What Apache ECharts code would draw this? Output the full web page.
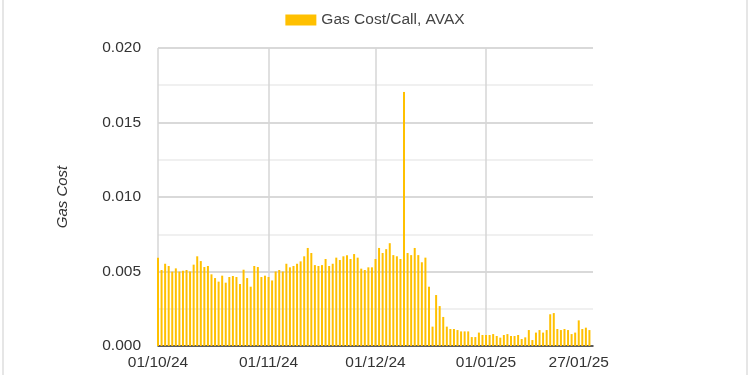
<!DOCTYPE html>
<html>
<head>
<meta charset="utf-8">
<script src="https://cdn.jsdelivr.net/npm/echarts@6/dist/echarts.min.js"></script>
<style>
html,body{margin:0;padding:0;background:#fff;}
#wrap{position:relative;width:750px;height:375px;}
#chart{width:750px;height:375px;}
.edge{position:absolute;top:0;width:2px;height:375px;background:#e6e6e6;}
</style>
</head>
<body>
<div id="wrap">
<div id="chart"></div>
<div class="edge" style="left:2px"></div>
<div class="edge" style="left:746px"></div>
</div>
<script>
// Daily gas cost per call (AVAX), 01/10/2024 .. 30/01/2025
const startDate = [2024, 9, 1];
const gasCost = [
  0.00593, 0.00510, 0.00552, 0.00537, 0.00499, 0.00521, 0.00499, 0.00505, 0.00510, 0.00500,
  0.00546, 0.00602, 0.00570, 0.00530, 0.00537, 0.00481, 0.00456, 0.00432, 0.00472, 0.00425,
  0.00463, 0.00470, 0.00463, 0.00416, 0.00512, 0.00456, 0.00398, 0.00537, 0.00530, 0.00463,
  0.00472, 0.00463, 0.00440, 0.00500, 0.00510, 0.00500, 0.00552, 0.00528, 0.00537, 0.00552,
  0.00568, 0.00602, 0.00658, 0.00624, 0.00543, 0.00537, 0.00543, 0.00584, 0.00537, 0.00552,
  0.00593, 0.00577, 0.00602, 0.00609, 0.00584, 0.00617, 0.00593, 0.00519, 0.00510, 0.00528,
  0.00528, 0.00584, 0.00658, 0.00624, 0.00650, 0.00690, 0.00610, 0.00602, 0.00584, 0.01705,
  0.00624, 0.00610, 0.00658, 0.00610, 0.00562, 0.00593, 0.00398, 0.00130, 0.00342, 0.00268,
  0.00195, 0.00130, 0.00114, 0.00114, 0.00107, 0.00098, 0.00098, 0.00098, 0.00060, 0.00060,
  0.00090, 0.00074, 0.00074, 0.00074, 0.00080, 0.00067, 0.00056, 0.00074, 0.00080, 0.00067,
  0.00067, 0.00074, 0.00047, 0.00058, 0.00107, 0.00040, 0.00090, 0.00107, 0.00090, 0.00107,
  0.00213, 0.00221, 0.00114, 0.00107, 0.00114, 0.00107, 0.00080, 0.00090, 0.00172, 0.00114,
  0.00123, 0.00107
];
// x-axis: days since 01/10/24
const tickDays = [0, 31, 61, 92, 118];
const tickLabels = ['01/10/24', '01/11/24', '01/12/24', '01/01/25', '27/01/25'];
const gridDays = [0, 31, 61, 92];
const yTicks = ['0.000', '0.005', '0.010', '0.015', '0.020'];
const seriesName = 'Gas Cost/Call, AVAX';
const axisDays = 122;

const barData = gasCost.map((v, i) => [i, v]);
const FONT = 'Liberation Sans, Arial, sans-serif';

const chart = echarts.init(document.getElementById('chart'), null, {renderer: 'canvas'});
chart.setOption({
  animation: false,
  backgroundColor: '#ffffff',
  legend: {
    top: 7,
    left: 'center',
    itemWidth: 31,
    itemHeight: 11,
    icon: 'rect',
    textStyle: {fontFamily: FONT, fontSize: 15.5, color: '#444'},
    data: [seriesName]
  },
  grid: {left: 158, right: 157, top: 48, bottom: 29, containLabel: false},
  xAxis: {
    type: 'value',
    min: 0,
    max: axisDays,
    axisLine: {show: true, onZero: false, lineStyle: {color: '#333', width: 1.5}},
    axisTick: {show: false, customValues: gridDays},
    splitLine: {show: true, lineStyle: {color: '#d6d6d6', width: 1.5}},
    axisLabel: {
      customValues: tickDays,
      fontFamily: FONT, fontSize: 15.5, color: '#333', margin: 9,
      formatter: (v) => tickLabels[tickDays.indexOf(Math.round(v))] || ''
    }
  },
  yAxis: {
    type: 'value',
    min: 0,
    max: 0.02,
    interval: 0.005,
    name: 'Gas Cost',
    nameLocation: 'middle',
    nameGap: 88,
    nameTextStyle: {fontFamily: FONT, fontSize: 15, fontStyle: 'italic', color: '#333'},
    axisLine: {show: false},
    axisTick: {show: false},
    axisLabel: {
      fontFamily: FONT, fontSize: 15.5, color: '#333', margin: 17,
      formatter: (v) => yTicks[Math.round(v / 0.005)]
    },
    splitLine: {lineStyle: {color: '#cccccc', width: 1.5}},
    minorTick: {show: false, splitNumber: 2},
    minorSplitLine: {show: true, lineStyle: {color: '#ececec', width: 1.5}}
  },
  series: [{
    name: seriesName,
    type: 'bar',
    data: barData,
    barWidth: 2,
    itemStyle: {color: '#FFC000'},
    clip: true
  }]
});
</script>
</body>
</html>
